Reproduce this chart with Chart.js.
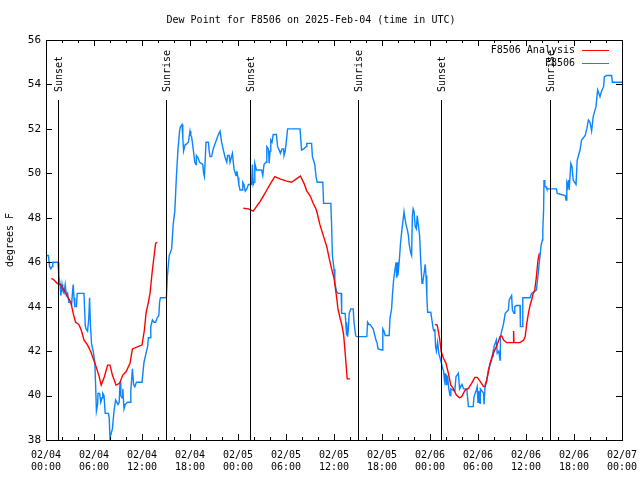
<!DOCTYPE html>
<html>
<head>
<meta charset="utf-8">
<script src="https://cdn.jsdelivr.net/npm/chart.js@4.4.0/dist/chart.umd.min.js"></script>
<style>
body{margin:0;background:#fff;}
canvas{display:block;}
</style>
</head>
<body>
<canvas id="dewCanvas" width="640" height="480"></canvas>
<script>
// hours since 02/04 00:00 UTC
var obsHours = [0.0,0.3,0.45,0.6,0.75,0.85,1.5,1.6,1.75,1.85,2.0,2.1,2.25,2.4,2.55,2.7,2.85,3.0,3.2,3.3,3.4,3.5,3.6,3.8,3.9,4.1,4.75,4.9,5.0,5.2,5.35,5.45,5.55,5.7,5.9,6.1,6.2,6.3,6.45,6.5,6.7,6.85,7.0,7.1,7.25,7.4,7.8,7.9,8.0,8.15,8.3,8.5,8.7,9.0,9.15,9.25,9.35,9.5,9.6,9.75,9.9,10.2,10.5,10.6,10.8,10.95,11.1,11.3,12.0,12.25,12.5,12.7,12.8,13.0,13.1,13.3,13.5,13.7,13.9,14.1,14.2,14.3,15.05,
  15.17,15.4,15.7,15.9,16.1,16.3,16.5,16.7,16.8,17.0,17.1,17.2,17.4,17.5,17.8,18.0,18.1,18.2,18.4,18.6,18.75,18.8,19.0,19.2,19.6,19.7,19.8,19.9,20.0,20.3,20.4,20.5,20.7,20.9,21.1,21.3,21.5,21.75,21.95,22.2,22.4,22.6,22.7,22.9,23.0,23.1,23.3,23.5,23.75,23.85,24.0,24.1,24.25,24.5,24.6,24.75,24.9,25.1,25.3,25.7,25.8,25.9,26.0,26.1,26.3,26.95,27.1,27.25,27.5,27.6,27.8,27.9,28.0,28.1,28.25,28.4,28.8,28.95,29.2,29.3,29.5,29.7,29.75,29.9,30.0,30.2,31.75,31.95,32.2,32.5,32.6,33.2,33.3,33.6,33.75,33.9,34.6,34.7,35.6,35.7,35.8,36.0,36.1,36.3,36.5,36.9,
  36.96,37.4,37.5,37.55,37.6,37.7,37.8,37.9,38.1,38.4,38.5,38.7,38.8,40.1,40.2,40.35,40.5,40.7,40.9,41.1,41.25,41.4,41.5,42.0,42.1,42.25,42.4,42.9,43.0,43.2,43.3,43.45,43.6,43.75,43.85,43.95,44.0,44.2,44.3,44.5,44.7,44.75,44.9,45.0,45.1,45.2,45.3,45.4,45.6,45.7,45.8,45.9,46.0,46.15,46.3,46.4,46.5,46.7,46.85,47.0,47.1,47.3,47.4,47.5,47.6,47.7,48.1,48.2,48.4,48.5,48.6,48.7,48.8,48.95,49.1,49.25,49.4,49.6,49.7,49.8,49.9,50.0,50.1,50.2,50.35,50.5,50.6,51.1,51.25,51.55,51.65,51.7,52.0,52.2,52.6,52.8,53.4,
  53.5,53.8,53.9,54.0,54.1,54.25,54.3,54.7,54.75,54.9,55.1,55.3,55.7,55.85,55.9,56.0,56.3,56.4,56.6,56.75,56.8,57.2,57.4,57.8,57.9,58.2,58.3,58.5,58.6,58.8,59.25,59.3,59.5,59.6,60.5,60.7,61.3,61.5,61.7,61.9,62.05,62.1,62.2,62.25,62.35,62.5,62.6,63.8,63.9,64.9,65.0,65.1,65.2,65.3,65.4,65.6,65.75,65.9,66.25,66.4,66.75,66.95,67.4,67.6,67.8,68.0,68.2,68.4,68.75,68.95,69.1,69.25,69.45,69.7,69.8,70.1,70.7,70.8,72.0];
var obsDew = [46.3,46.3,45.8,45.7,45.8,46.0,46.0,45.4,45.0,44.5,45.0,44.7,44.6,45.0,44.5,44.6,44.2,44.2,44.1,44.6,45.0,44.4,44.0,44.0,44.6,44.6,44.6,43.2,43.0,42.9,43.5,44.4,43.2,42.3,42.0,41.5,40.5,39.3,39.6,40.1,40.1,39.7,39.9,40.1,40.0,39.2,39.2,39.0,38.1,38.3,38.5,39.3,39.8,39.6,39.7,40.6,40.0,39.9,40.3,39.4,39.6,39.7,39.7,40.2,41.2,40.5,40.4,40.6,40.6,41.5,41.9,42.2,42.6,42.6,43.1,43.4,43.3,43.3,43.5,43.6,44.2,44.4,44.4,
  45.35,46.3,46.6,47.7,48.3,49.85,51.1,51.9,52.1,52.2,51.6,51.0,51.3,51.3,51.4,51.9,51.7,51.65,51.1,50.5,50.4,50.8,50.7,50.5,50.4,50.0,49.85,50.6,51.4,51.4,51.0,50.75,50.75,51.1,51.3,51.5,51.7,51.9,51.4,51.0,50.7,50.5,50.8,50.8,50.5,50.5,50.9,50.2,49.9,50.1,49.8,49.5,49.25,49.25,49.6,49.5,49.2,49.3,49.5,49.5,50.4,49.5,49.6,50.45,50.15,50.15,49.9,50.4,50.5,51.2,51.1,50.45,51.0,51.5,51.4,51.75,51.75,51.2,51.0,50.9,51.1,51.1,50.8,51.0,51.3,52.0,52.0,51.05,51.1,51.2,51.35,51.35,50.75,50.4,49.85,49.6,49.6,48.65,48.65,47.7,46.3,45.7,45.1,44.7,44.6,44.6,
  43.7,43.7,43.1,42.7,43.3,42.65,43.0,43.7,43.9,43.9,43.3,42.7,42.65,42.65,43.3,43.2,43.2,43.1,43.0,42.7,42.5,42.35,42.1,42.05,43.0,42.9,42.7,42.7,43.5,43.9,44.5,45.2,45.6,46.0,45.3,46.0,45.4,46.25,46.8,47.5,48.1,48.27,47.9,47.7,47.7,47.4,47.2,46.8,46.4,46.3,48.1,48.4,48.3,47.6,47.5,48.1,47.8,47.2,46.0,45.05,45.1,45.6,45.9,45.4,44.5,43.75,43.75,43.5,43.0,42.9,43.0,42.2,42.0,42.4,41.9,41.7,41.5,41.2,41.1,40.7,41.0,40.5,40.9,40.85,40.3,40.0,40.3,40.2,40.85,41.0,40.5,40.3,40.5,40.3,40.3,39.5,39.5,
  39.95,40.25,40.4,39.7,40.2,39.65,40.3,40.1,39.6,40.5,40.7,41.15,41.6,41.9,41.75,42.2,42.5,41.9,42.0,41.6,42.65,43.25,43.7,43.85,44.3,44.5,43.85,43.7,44.0,44.05,44.05,43.1,43.1,44.4,44.4,44.6,44.75,45.4,46.1,46.8,47.0,47.45,48.35,49.7,49.4,49.4,49.3,49.3,49.1,49.0,48.8,49.55,49.4,49.7,49.25,50.45,50.3,49.7,49.5,50.6,51.05,51.5,51.7,52.0,52.4,52.3,51.9,52.55,53.0,53.75,53.6,53.45,53.7,53.9,54.35,54.4,54.4,54.1,54.1];

var anaHours = [0.67,1.0,1.4,1.8,2.25,2.7,3.1,3.4,3.7,4.1,4.4,4.75,5.2,5.6,5.9,6.2,6.65,6.9,7.3,7.7,8.0,8.3,8.75,9.2,9.6,10.0,10.5,10.8,11.5,12.0,12.3,12.5,12.8,13.0,13.3,13.7,13.9,
  19.0,
  24.67,25.3,25.9,26.3,26.75,27.2,27.6,28.0,28.6,29.25,30.1,30.7,31.3,31.8,32.25,32.6,33.0,33.4,33.8,34.25,34.7,35.1,35.4,35.7,36.0,36.3,36.5,36.75,36.96,37.2,37.4,37.65,38.0,
  43.0,
  48.6,48.9,49.2,49.4,49.7,50.0,50.3,50.6,50.9,51.3,51.67,51.96,52.4,52.8,53.2,53.6,53.9,54.25,54.7,54.9,55.1,55.5,55.9,56.3,56.75,56.96,57.2,57.6,58.4,58.45,58.5,59.25,59.7,59.9,60.1,60.3,60.5,60.7,60.9,61.1,61.3,61.5,61.67];
var anaDew = [45.27,45.2,45.05,45.0,44.75,44.45,44.2,43.7,43.3,43.2,42.95,42.5,42.27,41.97,41.67,41.37,40.85,40.47,40.85,41.37,41.37,40.92,40.47,40.55,40.92,41.07,41.45,42.1,42.2,42.27,42.95,43.7,44.2,44.6,45.65,46.85,46.9,
  null,
  48.43,48.4,48.3,48.5,48.73,49.0,49.25,49.5,49.85,49.75,49.65,49.6,49.75,49.88,49.55,49.2,49.0,48.65,48.35,47.68,47.15,46.7,46.17,45.7,45.3,44.5,43.9,43.5,43.2,42.75,41.9,40.75,40.75,
  null,
  43.2,43.17,42.57,41.97,41.67,41.45,41.0,40.47,40.32,40.02,39.9,39.95,40.25,40.32,40.55,40.82,40.82,40.65,40.4,40.4,40.7,41.45,41.9,42.2,42.65,42.68,42.5,42.38,42.38,42.9,42.38,42.38,42.5,42.65,43.25,43.7,44.05,44.3,44.6,44.75,45.35,46.1,46.4];

var tickDates = ["02/04","02/04","02/04","02/04","02/05","02/05","02/05","02/05","02/06","02/06","02/06","02/06","02/07"];
var tickTimes = ["00:00","06:00","12:00","18:00","00:00","06:00","12:00","18:00","00:00","06:00","12:00","18:00","00:00"];

var sunHours = [1.5, 15.0, 25.5, 39.05, 49.4, 62.95];
var sunLabels = ["Sunset","Sunrise","Sunset","Sunrise","Sunset","Sunrise"];

var monoFont = "'DejaVu Sans Mono', 'Liberation Mono', monospace";

function toPoints(xs, ys){
    var pts = [];
    for (var i = 0; i < xs.length; i++) {
        pts.push({x: xs[i], y: ys[i]});
    }
    return pts;
}

// gnuplot-ish frame, inward tics, sun lines and key
var framePlugin = {
    id: "frame",
    afterDatasetsDraw: function(chart){
        var ctx = chart.ctx;
        var area = chart.chartArea;
        var xs = chart.scales.x;
        ctx.save();
        ctx.strokeStyle = "#000";
        ctx.lineWidth = 1;
        ctx.fillStyle = "#000";
        ctx.font = "10px " + monoFont;
        for (var i = 0; i < sunHours.length; i++) {
            var px = Math.round(xs.getPixelForValue(sunHours[i])) + 0.5;
            ctx.beginPath();
            ctx.moveTo(px, area.top + 60);
            ctx.lineTo(px, area.bottom);
            ctx.stroke();
            ctx.save();
            ctx.translate(px + 1, area.top + 52);
            ctx.rotate(-Math.PI / 2);
            ctx.textAlign = "left";
            ctx.textBaseline = "middle";
            ctx.fillText(sunLabels[i], 0, 0);
            ctx.restore();
        }
        ctx.restore();
    },
    afterDraw: function(chart){
        var ctx = chart.ctx;
        var area = chart.chartArea;
        var xs = chart.scales.x;
        var ys = chart.scales.y;
        ctx.save();
        ctx.strokeStyle = "#000";
        ctx.lineWidth = 1;
        ctx.strokeRect(Math.round(area.left) + 0.5, Math.round(area.top) + 0.5,
            Math.round(area.right - area.left), Math.round(area.bottom - area.top));
        ctx.beginPath();
        for (var h = 0; h <= 72; h += 2) {
            var px = Math.round(xs.getPixelForValue(h)) + 0.5;
            var len = (h % 6 === 0) ? 6 : 3;
            ctx.moveTo(px, area.bottom);
            ctx.lineTo(px, area.bottom - len);
            ctx.moveTo(px, area.top);
            ctx.lineTo(px, area.top + len);
        }
        for (var v = 38; v <= 56; v += 2) {
            var py = Math.round(ys.getPixelForValue(v)) + 0.5;
            ctx.moveTo(area.left, py);
            ctx.lineTo(area.left + 6, py);
            ctx.moveTo(area.right, py);
            ctx.lineTo(area.right - 6, py);
        }
        ctx.stroke();

        // key
        ctx.font = "10px " + monoFont;
        ctx.textAlign = "right";
        ctx.textBaseline = "middle";
        var sets = chart.data.datasets;
        for (var k = 0; k < sets.length; k++) {
            var ky = area.top + 10 + k * 13;
            ctx.fillStyle = "#000";
            ctx.fillText(sets[k].label, area.right - 47, ky);
            ctx.strokeStyle = sets[k].borderColor;
            ctx.beginPath();
            ctx.moveTo(area.right - 40, ky + 0.5);
            ctx.lineTo(area.right - 13, ky + 0.5);
            ctx.stroke();
        }
        ctx.restore();
    }
};

var ctx = document.getElementById("dewCanvas");
var chart = new Chart(ctx, {
    type: "line",
    data: {
        datasets: [
        {
            label: "F8506 Analysis",
            data: toPoints(anaHours, anaDew),
            borderColor: "#ff0000",
            borderWidth: 1.4,
            pointRadius: 0,
            spanGaps: false,
            fill: false
        },
        {
            label: "F8506",
            data: toPoints(obsHours, obsDew),
            borderColor: "#0a84ff",
            borderWidth: 1.4,
            pointRadius: 0,
            fill: false
        }
        ]
    },
    options: {
        responsive: false,
        animation: false,
        devicePixelRatio: 1,
        layout: { padding: { left: 0, right: 18, top: 0, bottom: 0 } },
        plugins: {
            legend: { display: false },
            tooltip: { enabled: false },
            title: {
                display: true,
                text: "Dew Point for F8506 on 2025-Feb-04 (time in UTC)",
                color: "#000",
                font: { family: monoFont, size: 10, weight: "normal", lineHeight: 1.2 },
                padding: { top: 14, bottom: 14 }
            }
        },
        scales: {
            x: {
                type: "linear",
                min: 0,
                max: 72,
                grid: { display: false, drawTicks: false },
                border: { display: false },
                ticks: {
                    stepSize: 6,
                    autoSkip: false,
                    maxRotation: 0,
                    padding: 9,
                    color: "#000",
                    font: { family: monoFont, size: 10, lineHeight: 1.25 },
                    callback: function(value, index){
                        return [tickDates[index], tickTimes[index]];
                    }
                },
                afterFit: function(scale){
                    scale.height = 40;
                    scale.paddingLeft = 0;
                    scale.paddingRight = 0;
                }
            },
            y: {
                min: 38,
                max: 56,
                grid: { display: false, drawTicks: false },
                border: { display: false },
                ticks: {
                    stepSize: 2,
                    padding: 5,
                    color: "#000",
                    font: { family: monoFont, size: 11 }
                },
                title: {
                    display: true,
                    text: "degrees F",
                    color: "#000",
                    font: { family: monoFont, size: 10, lineHeight: 1.2 },
                    padding: { top: 4, bottom: 0 }
                },
                afterFit: function(scale){
                    scale.width = 46;
                    scale.paddingTop = 0;
                    scale.paddingBottom = 0;
                }
            }
        }
    },
    plugins: [framePlugin]
});
</script>
</body>
</html>
